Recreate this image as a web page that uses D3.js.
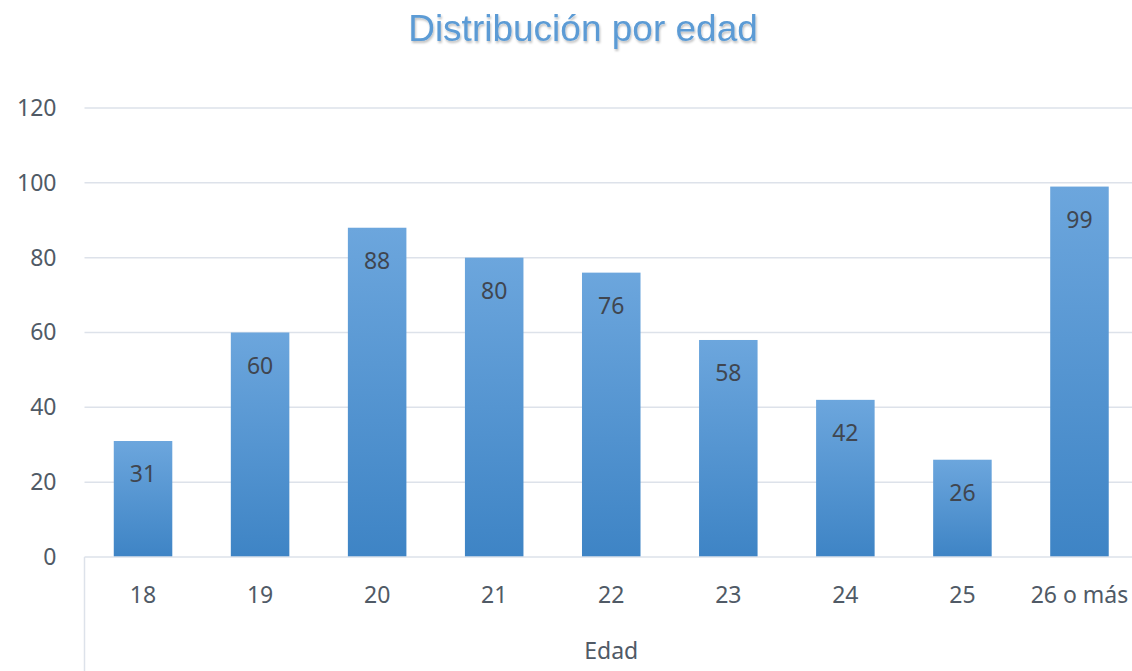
<!DOCTYPE html>
<html>
<head>
<meta charset="utf-8">
<script src="https://cdn.jsdelivr.net/npm/d3@7"></script>
<style>
  body { margin: 0; background: #fff; }
  svg { display: block; }
</style>
</head>
<body>
<div id="chart"></div>
<script>
const ages = ["18", "19", "20", "21", "22", "23", "24", "25", "26 o más"];
const counts = [31, 60, 88, 80, 76, 58, 42, 26, 99];
const yTicks = [0, 20, 40, 60, 80, 100, 120];

const width = 1132, height = 671;
const plotLeft = 84.5, plotRight = 1138, plotTop = 108, plotBottom = 557;
const font = "'Noto Sans', 'Open Sans', sans-serif";
const fontSize = 23;

const svg = d3.select("#chart").append("svg")
    .attr("width", width)
    .attr("height", height);

const defs = svg.append("defs");
const grad = defs.append("linearGradient")
    .attr("id", "barGrad")
    .attr("x1", 0).attr("y1", 0).attr("x2", 0).attr("y2", 1);
grad.append("stop").attr("offset", "0%").attr("stop-color", "#6ca6dd");
grad.append("stop").attr("offset", "100%").attr("stop-color", "#3e84c5");

const shadow = defs.append("filter").attr("id", "shadow")
    .attr("x", "-5%").attr("y", "-20%").attr("width", "110%").attr("height", "150%");
shadow.append("feDropShadow")
    .attr("dx", 1).attr("dy", 2).attr("stdDeviation", 1.2)
    .attr("flood-color", "#000").attr("flood-opacity", 0.25);

const x = d3.scaleBand(ages, [plotLeft, plotRight]).paddingInner(0.5).paddingOuter(0.25);
const y = d3.scaleLinear([0, 120], [plotBottom, plotTop]);

// gridlines
svg.append("g")
    .selectAll("line")
    .data(yTicks.filter(d => d > 0))
    .join("line")
    .attr("x1", plotLeft)
    .attr("x2", plotRight)
    .attr("y1", d => y(d))
    .attr("y2", d => y(d))
    .attr("stroke", "#dde2ea")
    .attr("stroke-width", 1.5);

// y axis labels
const yAxis = svg.append("g")
    .attr("transform", `translate(${plotLeft - 28},0)`)
    .call(d3.axisLeft(y).tickValues(yTicks).tickSize(0).tickPadding(0));
yAxis.select(".domain").remove();
yAxis.selectAll("text")
    .attr("font-family", font)
    .attr("font-size", fontSize)
    .attr("fill", "#505a66");

// bars
svg.append("g")
    .selectAll("rect")
    .data(counts)
    .join("rect")
    .attr("x", (d, i) => x(ages[i]))
    .attr("y", d => y(d))
    .attr("width", x.bandwidth())
    .attr("height", d => y(0) - y(d))
    .attr("fill", "url(#barGrad)");

// value labels
svg.append("g")
    .selectAll("text")
    .data(counts)
    .join("text")
    .attr("x", (d, i) => x(ages[i]) + x.bandwidth() / 2)
    .attr("y", d => y(d) + 41)
    .attr("text-anchor", "middle")
    .attr("font-family", font)
    .attr("font-size", fontSize)
    .attr("fill", "#404650")
    .text(d => d);

// x axis line and category box
svg.append("line")
    .attr("x1", plotLeft).attr("x2", plotRight)
    .attr("y1", plotBottom).attr("y2", plotBottom)
    .attr("stroke", "#dde2ea").attr("stroke-width", 1.5);
svg.append("line")
    .attr("x1", plotLeft).attr("x2", plotLeft)
    .attr("y1", plotBottom).attr("y2", height)
    .attr("stroke", "#dde2ea").attr("stroke-width", 1.5);

const xAxis = svg.append("g")
    .attr("transform", `translate(0,${plotBottom})`)
    .call(d3.axisBottom(x).tickSize(0).tickPadding(30));
xAxis.select(".domain").remove();
xAxis.selectAll("text")
    .attr("font-family", font)
    .attr("font-size", fontSize)
    .attr("fill", "#505a66");

svg.append("text")
    .attr("x", (plotLeft + plotRight) / 2)
    .attr("y", 659)
    .attr("text-anchor", "middle")
    .attr("font-family", font)
    .attr("font-size", fontSize)
    .attr("fill", "#505a66")
    .text("Edad");

// title
svg.append("text")
    .attr("x", 583)
    .attr("y", 41)
    .attr("text-anchor", "middle")
    .attr("font-family", "'Liberation Sans', Arial, sans-serif")
    .attr("font-size", 37)
    .attr("fill", "#5b9bd5")
    .attr("filter", "url(#shadow)")
    .text("Distribución por edad");
</script>
</body>
</html>
